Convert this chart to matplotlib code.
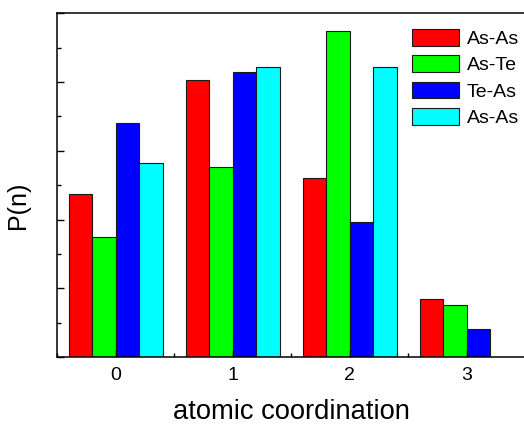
import numpy as np
import matplotlib
matplotlib.use('Agg')
import matplotlib.pyplot as plt
from matplotlib.ticker import MultipleLocator

plt.rcParams.update({'font.family': 'Liberation Sans'})

coordination = [0, 1, 2, 3]
series_labels = ['As-As', 'As-Te', 'Te-As', 'As-As']
as_as = [2.37, 4.03, 2.60, 0.84]
as_te = [1.74, 2.77, 4.74, 0.76]
te_as = [3.41, 4.15, 1.96, 0.41]
as_as2 = [2.82, 4.22, 4.22, 0.0]
colors = ['#ff0000', '#00ff00', '#0000ff', '#00ffff']

fig = plt.figure(figsize=(5.24, 4.26), dpi=100)
ax = fig.add_axes([57.3 / 524, (426 - 357) / 426, 468 / 524, 343.7 / 426])

x = np.array(coordination, dtype=float)
w = 0.2
for i, (vals, lab, c) in enumerate(zip([as_as, as_te, te_as, as_as2], series_labels, colors)):
    ax.bar(x + (i - 1.5) * w, vals, width=w, color=c, edgecolor='#1a1a1a',
           linewidth=0.8, label=lab)

ax.set_xlim(-0.5, 3.5)
ax.set_ylim(0, 5)
ax.set_xticks(coordination)
ax.xaxis.set_minor_locator(MultipleLocator(0.5))
ax.yaxis.set_major_locator(MultipleLocator(1))
ax.yaxis.set_minor_locator(MultipleLocator(0.5))
ax.set_yticklabels([])
ax.tick_params(which='both', direction='in', top=False, right=False)
ax.tick_params(which='major', length=5, width=1, labelsize=14, pad=7)
ax.tick_params(which='minor', length=3, width=1)
for s in ax.spines.values():
    s.set_linewidth(1.1)

ax.set_xlabel('atomic coordination', fontsize=19.7, labelpad=11)
ax.set_ylabel('P(n)', fontsize=18)
ax.yaxis.set_label_coords(-0.058, 0.44)

ax.legend(loc='upper left', bbox_to_anchor=(411.7 / 524, 1 - 29 / 426),
          bbox_transform=fig.transFigure, frameon=False, fontsize=14,
          handlelength=2.42, handleheight=0.93, handletextpad=0.4,
          labelspacing=0.38, borderpad=0, borderaxespad=0)

plt.savefig('out.png', dpi=100)
plt.close()
